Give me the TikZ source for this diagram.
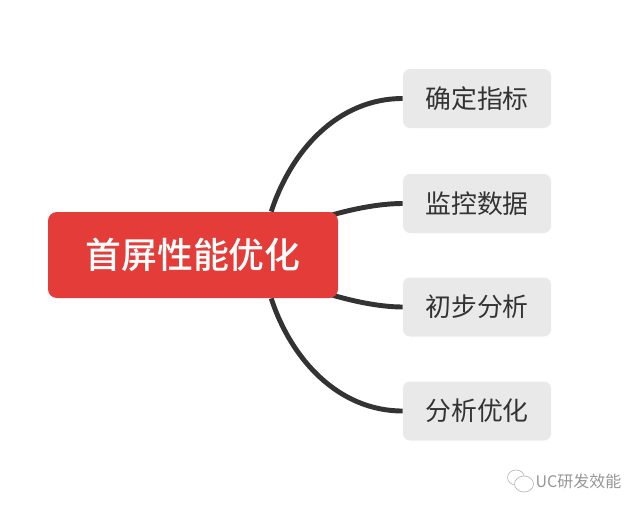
\documentclass[tikz,border=0pt]{standalone}
\usepackage{fontspec}
\setmainfont{Noto Sans CJK SC}
\newfontfamily\rootfont{Noto Sans CJK SC Medium}
\usetikzlibrary{positioning, calc, backgrounds}
\definecolor{rootred}{RGB}{227, 60, 57}
\definecolor{leafgray}{RGB}{233, 233, 233}
\definecolor{inkgray}{RGB}{51, 51, 51}
\definecolor{markgray}{RGB}{150, 150, 150}
\tikzset{
    rootbox/.style={rectangle, rounded corners=5pt, minimum width=5.8cm, minimum height=1.72cm, fill=rootred, text=white, font=\fontsize{20.4}{24}\rootfont, inner sep=0pt},
    leafbox/.style={rectangle, rounded corners=4pt, minimum width=2.96cm, minimum height=1.18cm, fill=leafgray, text=inkgray, font=\fontsize{14.7}{18}\selectfont, inner sep=0pt},
    branch/.style={draw=inkgray, line width=2.8pt},
    watermark/.style={text=markgray, font=\fontsize{9.1}{11}\selectfont, inner sep=0pt},
    bubble/.style={draw=markgray!70, line width=0.35pt},
}
\begin{document}
\begin{tikzpicture}
    \useasboundingbox (0,0) rectangle (12.8,10.18);
    \node[rootbox] (root) at (3.86,5.08) {首屏性能优化};
    \node[leafbox] (metric) at (9.54,8.21) {确定指标};
    \node[leafbox] (monitor) at (9.54,6.11) {监控数据};
    \node[leafbox] (analyse) at (9.54,4.04) {初步分析};
    \node[leafbox] (optimize) at (9.54,1.96) {分析优化};

    \begin{scope}[on background layer]
        \draw[branch] (root.29) to[out=72,in=180,looseness=0.95] (metric.west);
        \draw[branch] ($(root.north east)+(-0.24,-0.1)$) to[out=17,in=180,looseness=0.8] (monitor.west);
        \draw[branch] ($(root.south east)+(-0.24,0.1)$) to[out=-17,in=180,looseness=0.8] (analyse.west);
        \draw[branch] (root.-29) to[out=-72,in=180,looseness=0.95] (optimize.west);
    \end{scope}

    % small mark in the corner
    \node[watermark] (mark) at (11.57,0.56) {UC研发效能};
    \draw[bubble, fill=white] (10.32,0.63) ellipse (0.17 and 0.15);
    \draw[bubble, fill=white] (10.48,0.5) ellipse (0.19 and 0.16);
\end{tikzpicture}
\end{document}
